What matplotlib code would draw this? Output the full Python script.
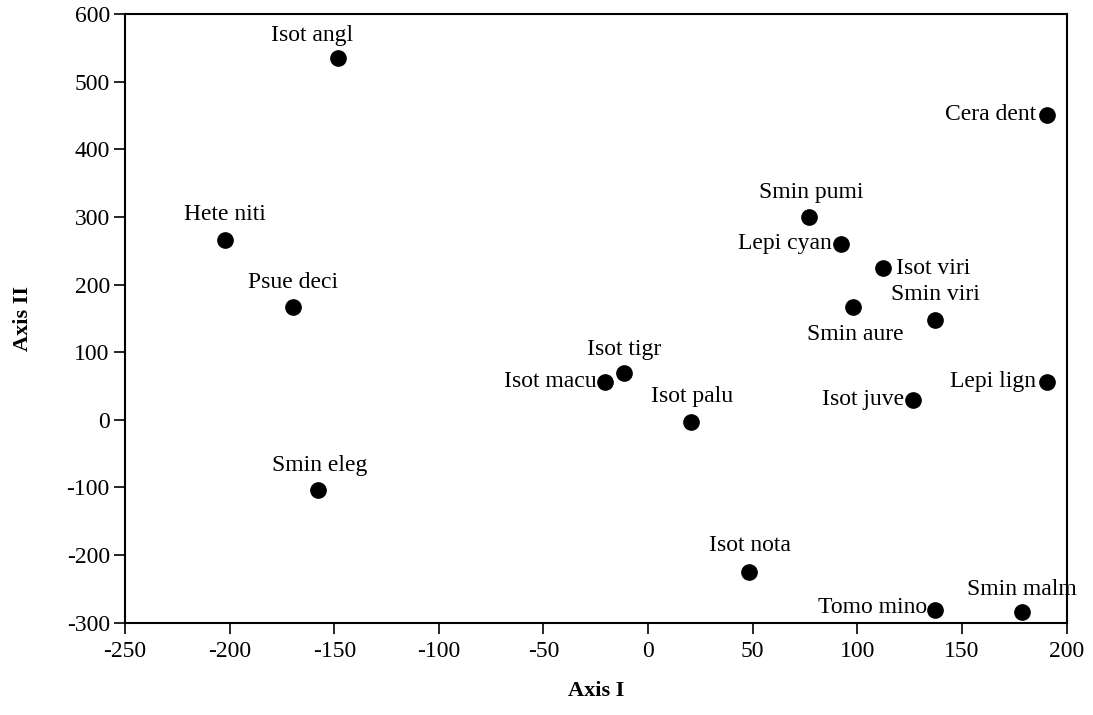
import matplotlib
matplotlib.use("Agg")
import matplotlib.pyplot as plt

plt.rcParams['font.family'] = ['Liberation Serif', 'DejaVu Serif']

# Ordination scores of the species on the first two axes
species = ["Isot angl", "Cera dent", "Hete niti", "Psue deci", "Smin pumi",
           "Lepi cyan", "Isot viri", "Smin aure", "Smin viri", "Lepi lign",
           "Isot juve", "Isot tigr", "Isot macu", "Isot palu", "Smin eleg",
           "Isot nota", "Tomo mino", "Smin malm"]
axis1 = [-148.0, 190.5, -202.2, -169.6, 76.9, 92.2, 112.2, 98.1, 137.2, 190.5,
         126.8, -11.5, -20.6, 20.4, -157.8, 48.4, 137.2, 178.6]
axis2 = [534.5, 450.7, 265.9, 167.3, 299.9, 260.0, 224.0, 167.3, 147.6, 56.4,
         29.3, 68.8, 56.4, -2.8, -103.8, -224.6, -281.2, -283.7]

x_ticks = [-250, -200, -150, -100, -50, 0, 50, 100, 150, 200]
y_ticks = [-300, -200, -100, 0, 100, 200, 300, 400, 500, 600]

# Label placement: (dx, dy) in pixels from the point, horizontal alignment
label_pos = {
    "Isot angl": (-26, 23, "center"),
    "Cera dent": (-11, 0, "right"),
    "Hete niti": (0, 25, "center"),
    "Psue deci": (0, 24, "center"),
    "Smin pumi": (2, 24, "center"),
    "Lepi cyan": (-9, 0, "right"),
    "Isot viri": (13, 0, "left"),
    "Smin aure": (2, -28, "center"),
    "Smin viri": (0, 25, "center"),
    "Lepi lign": (-11, 0, "right"),
    "Isot juve": (-9, 0, "right"),
    "Isot tigr": (0, 24, "center"),
    "Isot macu": (-8, 0, "right"),
    "Isot palu": (1, 25, "center"),
    "Smin eleg": (2, 25, "center"),
    "Isot nota": (1, 26, "center"),
    "Tomo mino": (-8, 2, "right"),
    "Smin malm": (0, 22, "center"),
}

fig = plt.figure(figsize=(10.93, 7.15), dpi=100)
ax = fig.add_axes([0.1144, 0.1291, 0.8614, 0.8513])

ax.plot(axis1, axis2, 'o', color='black', markersize=11, linestyle='none',
        clip_on=False, zorder=3)

for name, xv, yv in zip(species, axis1, axis2):
    dx, dy, ha = label_pos[name]
    ax.annotate(name, (xv, yv), xytext=(dx, dy), textcoords='offset pixels',
                ha=ha, va='center', fontsize=17, color='black',
                annotation_clip=False)

ax.set_xlim(-250, 200)
ax.set_ylim(-300, 600)
ax.set_xticks(x_ticks)
ax.set_yticks(y_ticks)
ax.set_xticklabels([str(v) for v in x_ticks])
ax.set_yticklabels([str(v) for v in y_ticks])
ax.tick_params(axis='both', direction='out', length=8, width=1.2,
               labelsize=17, colors='black', pad=3)
ax.tick_params(axis='x', pad=5)

for s in ax.spines.values():
    s.set_linewidth(1.5)
    s.set_color('black')

ax.set_xlabel("Axis I", fontsize=16, fontweight='bold', labelpad=14)
ax.set_ylabel("Axis II", fontsize=16, fontweight='bold', labelpad=24)

fig.savefig("out.png", dpi=100)
